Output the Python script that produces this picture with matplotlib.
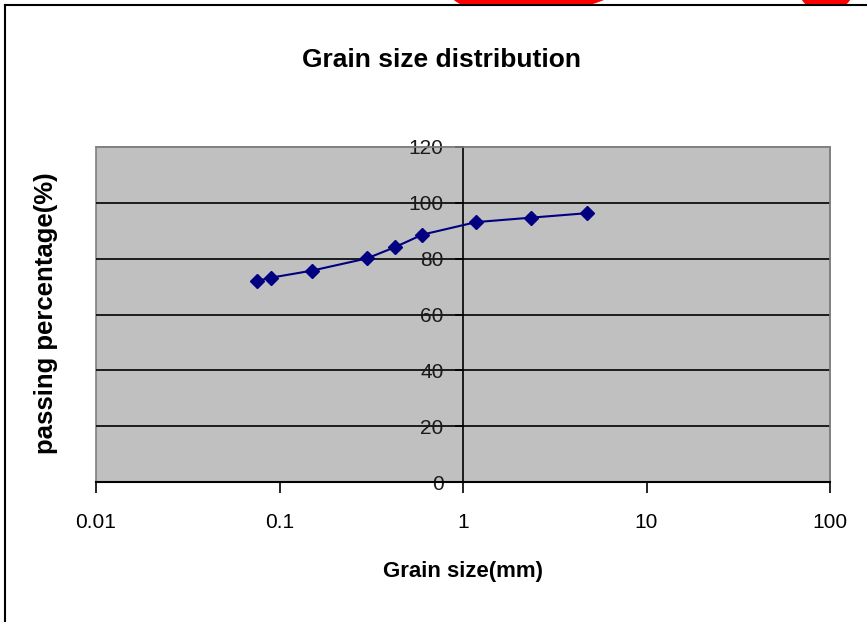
import numpy as np
import matplotlib
matplotlib.use("Agg")
import matplotlib.pyplot as plt
from matplotlib.patches import Ellipse, Rectangle
from matplotlib.lines import Line2D

# sieve data
grain_size_mm = [0.075, 0.09, 0.15, 0.3, 0.425, 0.6, 1.18, 2.36, 4.75]
passing_pct = [72.0, 73.2, 75.7, 80.1, 84.1, 88.6, 93.1, 94.7, 96.3]
x_ticks = [0.01, 0.1, 1, 10, 100]
x_tick_labels = ["0.01", "0.1", "1", "10", "100"]
y_ticks = [0, 20, 40, 60, 80, 100, 120]

plt.rcParams['font.family'] = ["Liberation Sans", "DejaVu Sans"]

W, H = 867, 622
fig = plt.figure(figsize=(W / 100, H / 100), dpi=100)
fig.patch.set_facecolor("white")

def fx(px):
    return px / W

def fy(py):
    return 1 - py / H

ax = fig.add_axes([fx(96), fy(482), fx(830) - fx(96), fy(147) - fy(482)])
ax.set_facecolor("#C0C0C0")
ax.patch.set_edgecolor("#808080")
ax.patch.set_linewidth(1.2)

ax.set_xscale("log")
ax.set_xlim(0.01, 100)
ax.set_ylim(0, 120)

for v in y_ticks[1:-1]:
    ax.axhline(v, color="black", lw=1.2, zorder=1)

ax.plot(grain_size_mm, passing_pct, color="#000080", lw=1.5,
        marker="D", markersize=7, markerfacecolor="#000080",
        markeredgecolor="#000080", zorder=3)

# y axis crosses at 1 mm, like the spreadsheet chart
ax.spines['left'].set_position(('data', 1))
ax.spines['left'].set_color("black")
ax.spines['left'].set_linewidth(1.2)
ax.spines['bottom'].set_color("black")
ax.spines['bottom'].set_linewidth(1.5)
for s in ["top", "right"]:
    ax.spines[s].set_color("#808080")
    ax.spines[s].set_linewidth(1.2)

ax.set_xticks(x_ticks)
ax.set_xticklabels(x_tick_labels)
ax.xaxis.set_minor_locator(matplotlib.ticker.NullLocator())
ax.set_yticks(y_ticks)
ax.set_yticklabels([str(v) for v in y_ticks])
ax.tick_params(axis="x", direction="out", length=8, width=1.2,
               labelsize=15, pad=14, colors="black")
ax.tick_params(axis="y", direction="out", length=6, width=1.2,
               labelsize=15, pad=8, colors="black")
for t in ax.get_yticklabels():
    t.set_zorder(5)
    t.set_color("#1a1a1a")

fig.text(fx(442), fy(60), "Grain size distribution", ha="center", va="center",
         fontsize=19, fontweight="bold")
fig.text(fx(463), fy(572), "Grain size(mm)", ha="center", va="center",
         fontsize=16, fontweight="bold")
fig.text(fx(46), fy(313), "passing percentage(%)", ha="center", va="center",
         rotation=90, fontsize=18.5, fontweight="bold")

# chart frame, cropped at right and bottom
fig.add_artist(Line2D([fx(5), fx(5)], [fy(5), fy(640)], color="black", lw=1.5))
fig.add_artist(Line2D([fx(5), fx(870)], [fy(5), fy(5)], color="black", lw=1.5))

# red annotation marks poking in above the frame
clip = Rectangle((0, fy(5)), 1, 1, transform=fig.transFigure, visible=False)
fig.add_artist(clip)
e1 = Ellipse((fx(545), fy(-30)), fx(190), 70 / H, angle=12,
             transform=fig.transFigure, fill=False, edgecolor="red", lw=12)
e2 = Ellipse((fx(826), fy(-30)), fx(50), 70 / H, angle=0,
             transform=fig.transFigure, fill=False, edgecolor="red", lw=12)
for e in (e1, e2):
    fig.add_artist(e)
    e.set_clip_path(clip)

fig.savefig("out.png", dpi=100, facecolor="white")
